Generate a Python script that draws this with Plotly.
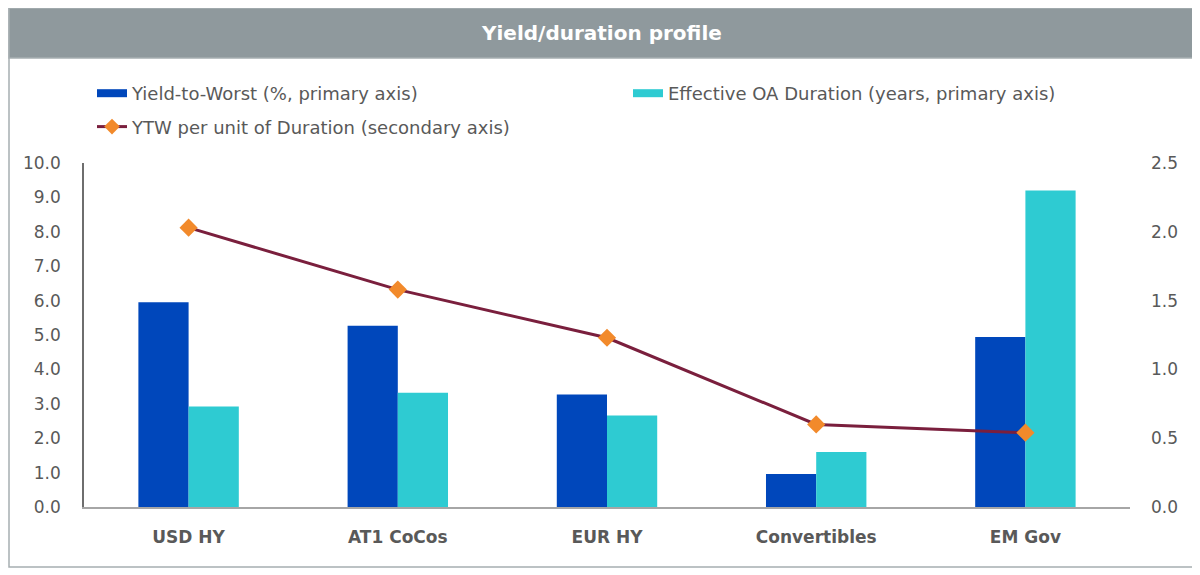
import plotly.graph_objects as go

# ── data ─────────────────────────────────────────────────────────────────────

categories = ["USD HY", "AT1 CoCos", "EUR HY", "Convertibles", "EM Gov"]
ytw = [5.95, 5.27, 3.27, 0.96, 4.94]
duration = [2.92, 3.32, 2.66, 1.60, 9.20]
ytw_per_dur = [2.03, 1.58, 1.23, 0.60, 0.54]

left_ticks = [0, 1, 2, 3, 4, 5, 6, 7, 8, 9, 10]
right_ticks = [0, 0.5, 1.0, 1.5, 2.0, 2.5]

names = [
    "Yield-to-Worst (%, primary axis)",
    "Effective OA Duration (years, primary axis)",
    "YTW per unit of Duration (secondary axis)",
]

# ── style ────────────────────────────────────────────────────────────────────

OFF = 8                                # page body margin in the browser
W, H = 1200 - OFF, 575 - OFF
L, R, T, B = 84 - OFF, 70, 163 - OFF, 68   # plot area in px (figure coords)
PW, PH = W - L - R, H - T - B

BLUE = "#0047bb"
CYAN = "#2ecbd2"
MAROON = "#7a1f3d"
ORANGE = "#f28a2b"
TEXT = "#595959"
BAR_GREY = "#8f999d"
FONT = "DejaVu Sans, sans-serif"


def px_x(px):
    # page px -> paper x
    return (px - OFF - L) / PW


def px_y(py):
    # page px -> paper y
    return (H - B - (py - OFF)) / PH


fig = go.Figure()
fig.add_trace(go.Bar(
    x=categories, y=ytw, name=names[0], showlegend=False,
    marker_color=BLUE, marker_line_width=0,
))
fig.add_trace(go.Bar(
    x=categories, y=duration, name=names[1], showlegend=False,
    marker_color=CYAN, marker_line_width=0,
))
fig.add_trace(go.Scatter(
    x=categories, y=ytw_per_dur, name=names[2], showlegend=False,
    yaxis="y2", mode="lines+markers",
    line=dict(color=MAROON, width=3),
    marker=dict(symbol="diamond", size=14, color=ORANGE),
))

# legend entries (wide flat swatches like the original)
fig.add_trace(go.Scatter(
    x=[None], y=[None], name=names[0], mode="lines",
    line=dict(color=BLUE, width=8), legend="legend", legendgroup="a",
))
fig.add_trace(go.Scatter(
    x=[None], y=[None], name=names[2], mode="lines+markers",
    line=dict(color=MAROON, width=3),
    marker=dict(symbol="diamond", size=12, color=ORANGE),
    legend="legend", legendgroup="b",
))
fig.add_trace(go.Scatter(
    x=[None], y=[None], name=names[1], mode="lines",
    line=dict(color=CYAN, width=8), legend="legend2",
))

leg = dict(
    xref="container", yref="container", xanchor="left", yanchor="top",
    font=dict(size=18, color=TEXT), bgcolor="rgba(0,0,0,0)",
    itemwidth=30, tracegroupgap=7,
)

fig.update_layout(
    width=W, height=H,
    margin=dict(l=L, r=R, t=T, b=B, autoexpand=False),
    paper_bgcolor="white", plot_bgcolor="white",
    font=dict(family=FONT, size=17, color=TEXT),
    barmode="group", bargap=0.52, bargroupgap=0,
    legend=dict(**leg, x=(92 - OFF) / W, y=1 - (75 - OFF) / H),
    legend2=dict(**leg, x=(628 - OFF) / W, y=1 - (75 - OFF) / H),
    xaxis=dict(
        showgrid=False, zeroline=False, showline=True,
        linecolor="#a6a6a6", linewidth=2,
        tickfont=dict(size=17, color=TEXT, weight="bold"),
        ticklabelstandoff=14,
    ),
    yaxis=dict(
        range=[0, 10], tickvals=left_ticks, tickformat=".1f",
        showgrid=False, zeroline=False, showline=True,
        linecolor="#6e6e6e", linewidth=1.5,
        ticklabelstandoff=18,
    ),
    yaxis2=dict(
        range=[0, 2.5], tickvals=right_ticks, tickformat=".1f",
        overlaying="y", side="right",
        showgrid=False, zeroline=False, showline=False,
        ticklabelstandoff=20,
    ),
    shapes=[
        # outer frame
        dict(type="rect", xref="paper", yref="paper",
             x0=px_x(9), x1=px_x(1195), y0=px_y(567), y1=px_y(8),
             line=dict(color="#a6aeb1", width=1.5), fillcolor="rgba(0,0,0,0)",
             layer="below"),
        # title bar
        dict(type="rect", xref="paper", yref="paper",
             x0=px_x(9), x1=px_x(1195), y0=px_y(58), y1=px_y(8),
             line=dict(color="#a6aeb1", width=1.5), fillcolor=BAR_GREY,
             layer="below"),
    ],
    annotations=[dict(
        text="<b>Yield/duration profile</b>", xref="paper", yref="paper",
        x=px_x(601), y=px_y(33), xanchor="center", yanchor="middle",
        showarrow=False,
        font=dict(size=20, color="white", family=FONT),
    )],
)

fig.write_html("out.html")
